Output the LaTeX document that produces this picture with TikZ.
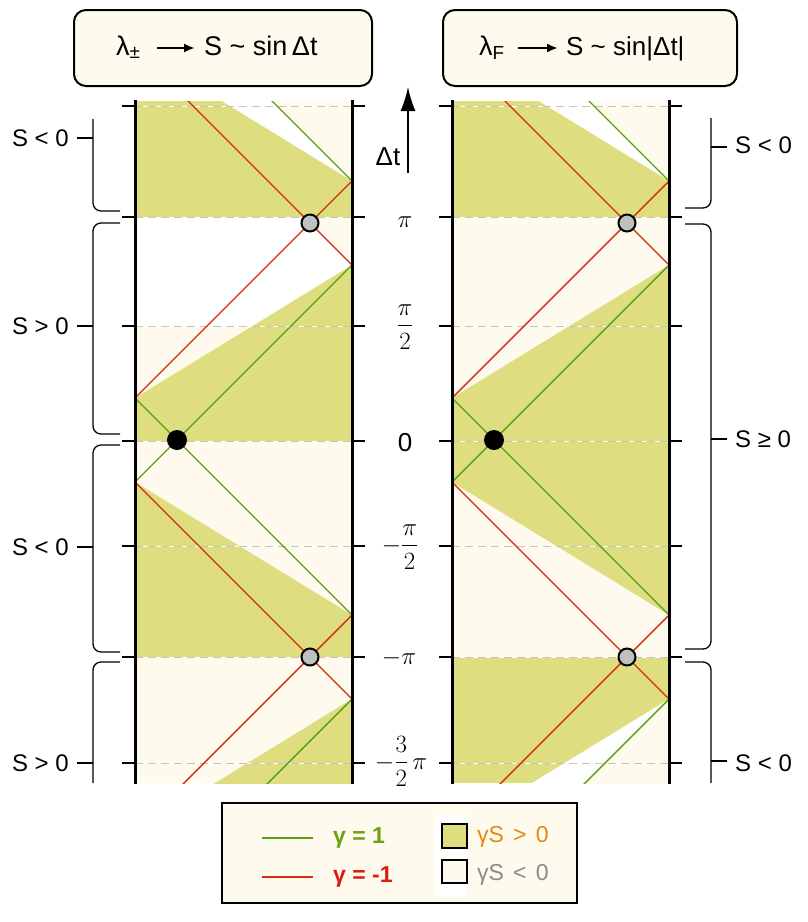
\documentclass[tikz,border=0pt]{standalone}
\usepackage{amsmath}
\usepackage{fontspec}
\setmainfont{Liberation Sans}
\usetikzlibrary{arrows.meta}
\definecolor{cream}{HTML}{FFFAEE}
\definecolor{yel}{HTML}{DEDE80}
\definecolor{gline}{HTML}{5A9E10}
\definecolor{rline}{HTML}{D42A10}
\definecolor{dashg}{HTML}{C4C4C4}
\definecolor{dotg}{HTML}{C0C0C0}
\definecolor{orangeT}{HTML}{E48A10}
\definecolor{grayT}{HTML}{8A8A8A}
\definecolor{greenT}{HTML}{6AA312}
\definecolor{redT}{HTML}{DC1A10}
\tikzset{
  wall/.style={line width=3pt},
  tickl/.style={line width=1.3pt},
  gl/.style={draw=gline, line width=1.4pt},
  rl/.style={draw=rline, line width=1.4pt},
  dashl/.style={draw=dashg, line width=1pt, dash pattern=on 8pt off 5pt},
  bdot/.style={circle, fill=black, minimum size=20pt, inner sep=0pt},
  gdot/.style={circle, fill=dotg, draw=black, line width=2pt, minimum size=17pt, inner sep=0pt},
  bracel/.style={line width=1.3pt, rounded corners=8pt},
  slab/.style={font=\fontsize{24}{28}\selectfont, inner sep=0pt},
  tlab/.style={font=\fontsize{24}{28}\selectfont, inner sep=0pt, anchor=base},
  ttl/.style={font=\fontsize{27}{31}\selectfont, inner sep=0pt, anchor=base west},
  titlebox/.style={draw=black, fill=cream, line width=2pt, rounded corners=12pt},
  tarrow/.style={line width=2.2pt, -{Latex[length=11pt,width=9pt]}},
  legtxt/.style={font=\fontsize{23}{27}\selectfont, inner sep=0pt, anchor=west},
}
\newcommand\upperfills{%
  \fill[cream] (135,101) rectangle (352,783);
  \begin{scope}
    \clip (135,101) rectangle (352,217);
    \fill[white] (352,181) -- (52,-3) -- (52,-119) -- cycle;
    \fill[yel] (352,181) -- (52,-3) -- (52,300) -- (352,300) -- cycle;
  \end{scope}
}
\newcommand\midfills{%
  \begin{scope}
    \clip (135,217) rectangle (352,441);
    \fill[yel] (135,398) -- (352,265) -- (352,441) -- (135,441) -- cycle;
  \end{scope}
}
\newcommand\panellines{%
  \begin{scope}
    \clip (135,101) rectangle (352,783);
    \foreach \yy in {106,217,326,441,546,657,763}{
      \draw[white, line width=1pt] (135,\yy) -- (352,\yy);
      \draw[dashl] (135,\yy) -- (352,\yy);
    }
    \draw[gl] (135,482) -- (352,265);
    \draw[gl] (135,398) -- (352,615);
    \draw[rl] (135,398) -- (352,181);
    \draw[rl] (352,265) -- (152,65);
    \draw[gl] (352,181) -- (152,-19);
    \draw[rl] (135,482) -- (352,699);
    \draw[rl] (352,615) -- (152,815);
    \draw[gl] (352,699) -- (152,899);
  \end{scope}
  \draw[wall] (135,100) -- (135,784);
  \draw[wall] (352,100) -- (352,784);
  \foreach \yy in {106,217,326,441,546,657,763}{
    \draw[tickl] (122,\yy) -- (135,\yy);
    \draw[tickl] (352,\yy) -- (365,\yy);
  }
}
\begin{document}
\begin{tikzpicture}[x=1pt,y=-1pt]
\useasboundingbox (0,0) rectangle (807,922);
% ---------- left panel ----------
\begin{scope}
  \upperfills
  \begin{scope}
    \clip (135,217) rectangle (352,441);
    \fill[white] (135,217) rectangle (352,326);
    \fill[cream] (310,223) -- (352,181) -- (352,265) -- cycle;
  \end{scope}
  \midfills
  \begin{scope}
    \clip (135,441) rectangle (352,657);
    \fill[yel] (135,482) -- (352,615) -- (352,657) -- (135,657) -- cycle;
  \end{scope}
  \begin{scope}
    \clip (135,657) rectangle (352,783);
    \fill[yel] (352,699) -- (52,883) -- (352,883) -- cycle;
  \end{scope}
  \panellines
\end{scope}
\node[bdot] (bdL) at (177,440) {};
\node[gdot] (gdL1) at (310,223) {};
\node[gdot] (gdL2) at (310,657) {};
% ---------- right panel ----------
\begin{scope}[xshift=317pt]
  \upperfills
  \midfills
  \begin{scope}
    \clip (135,441) rectangle (352,657);
    \fill[yel] (135,441) -- (352,441) -- (352,615) -- (135,482) -- cycle;
  \end{scope}
  \begin{scope}
    \clip (135,657) rectangle (352,783);
    \fill[yel] (135,657) rectangle (352,783);
    \fill[white] (352,699) -- (52,883) -- (52,999) -- cycle;
    \fill[cream] (352,699) -- (52,999) -- (352,999) -- cycle;
  \end{scope}
  \panellines
\end{scope}
\node[bdot] (bdR) at (494,440) {};
\node[gdot] (gdR1) at (627,223) {};
\node[gdot] (gdR2) at (627,657) {};
% ---------- axis ----------
\coordinate (axB) at (408,173);
\coordinate (axT) at (408,87);
\draw[line width=1.4pt, -{Latex[length=24pt,width=15pt]}] (axB) -- (axT);
\node[font=\fontsize{26}{30}\selectfont, inner sep=0pt] (dtl) at (388,157) {Δt};
\node[tlab] (lpi) at (405,227) {$\pi$};
\node[tlab] (lpi2) at (405,332) {$\dfrac{\pi}{2}$};
\node[tlab, font=\fontsize{26}{30}\selectfont] (lzero) at (405,451) {0};
\node[tlab] (lmpi2) at (400,552) {$-\dfrac{\pi}{2}$};
\node[tlab] (lmpi) at (399,664) {$-\pi$};
\node[tlab] (lm3pi2) at (401,769) {$-\dfrac{3}{2}\,\pi$};
% ---------- left braces ----------
\draw[bracel] (93,119) -- (93,211) -- (120,211);
\draw[tickl] (77,138) -- (93,138);
\node[slab, anchor=east] (sL1) at (69,138) {S < 0};
\draw[bracel] (120,223) -- (93,223) -- (93,434) -- (120,434);
\draw[tickl] (77,326) -- (93,326);
\node[slab, anchor=east] (sL2) at (69,326) {S > 0};
\draw[bracel] (120,445) -- (93,445) -- (93,652) -- (120,652);
\draw[tickl] (77,547) -- (93,547);
\node[slab, anchor=east] (sL3) at (69,547) {S < 0};
\draw[bracel] (120,662) -- (93,662) -- (93,783);
\draw[tickl] (77,763) -- (93,763);
\node[slab, anchor=east] (sL4) at (69,763) {S > 0};
% ---------- right braces ----------
\draw[bracel] (711,118) -- (711,208) -- (685,208);
\draw[tickl] (711,147) -- (727,147);
\node[slab, anchor=west] (sR1) at (735,145) {S < 0};
\draw[bracel] (685,224) -- (711,224) -- (711,649) -- (685,649);
\draw[tickl] (711,439) -- (727,439);
\node[slab, anchor=west] (sR2) at (735,439) {S ≥ 0};
\draw[bracel] (685,662) -- (711,662) -- (711,783);
\draw[tickl] (711,761) -- (727,761);
\node[slab, anchor=west] (sR3) at (735,763) {S < 0};
% ---------- titles ----------
\draw[titlebox] (74,10) rectangle (372,86);
\node[ttl] (lamL) at (116,55) {λ\textsubscript{±}};
\coordinate (aL1) at (157,48);
\coordinate (aL2) at (195,48);
\draw[tarrow] (aL1) -- (aL2);
\node[ttl] (sinL) at (204,55) {S \textasciitilde{} sin\,Δt};
\draw[titlebox] (443,10) rectangle (737,86);
\node[ttl] (lamR) at (479,55) {λ\textsubscript{F}};
\coordinate (aR1) at (518,48);
\coordinate (aR2) at (558,48);
\draw[tarrow] (aR1) -- (aR2);
\node[ttl, font=\fontsize{26}{30}\selectfont] (sinR) at (566,55) {S \textasciitilde{} sin|Δt|};
% ---------- legend ----------
\draw[fill=cream, line width=1.5pt] (222,803) rectangle (577,903);
\fill[white] (435,815) rectangle (467,897);
\coordinate (lg1) at (262,838);
\coordinate (lg2) at (313,838);
\coordinate (lr1) at (262,877);
\coordinate (lr2) at (313,877);
\draw[gline, line width=2pt] (lg1) -- (lg2);
\draw[rline, line width=2pt] (lr1) -- (lr2);
\node[legtxt, text=greenT, font=\fontsize{23}{27}\selectfont\bfseries] (tg) at (333,838) {γ = 1};
\node[legtxt, text=redT, font=\fontsize{23}{27}\selectfont\bfseries] (tr) at (333,877) {γ = -1};
\draw[fill=yel, line width=1.2pt] (442,824) rectangle (467,848);
\draw[fill=cream, line width=1.2pt] (442,860) rectangle (467,883);
\node[legtxt, text=orangeT] (tp) at (477,837) {γS\hspace{0.4em}>\hspace{0.4em}0};
\node[legtxt, text=grayT] (tn) at (477,875) {γS\hspace{0.4em}<\hspace{0.4em}0};
\end{tikzpicture}
\end{document}
